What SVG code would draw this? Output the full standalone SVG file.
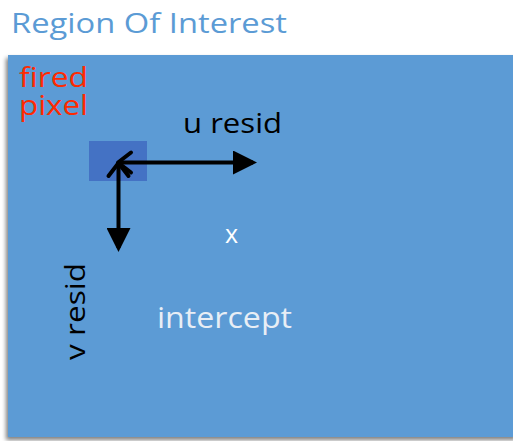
<svg xmlns="http://www.w3.org/2000/svg" width="513" height="441" viewBox="0 0 513 441">
<defs>
<style>
.t{font-family:"Open Sans","Liberation Sans",sans-serif;}
.ln{stroke:#000;stroke-width:4;fill:none;}
</style>
<filter id="sh" x="-5%" y="-5%" width="110%" height="110%">
<feGaussianBlur in="SourceAlpha" stdDeviation="2"/>
<feOffset dx="-2" dy="3"/>
<feComponentTransfer><feFuncA type="linear" slope="0.5"/></feComponentTransfer>
<feMerge><feMergeNode/><feMergeNode in="SourceGraphic"/></feMerge>
</filter>
<marker id="fill" markerWidth="6" markerHeight="6" refX="5" refY="3" orient="auto" markerUnits="strokeWidth">
<path d="M0,0 L6,3 L0,6 Z" fill="#000"/>
</marker>
<marker id="open" markerWidth="8" markerHeight="8" refX="1" refY="4" orient="auto" markerUnits="userSpaceOnUse" overflow="visible">
<path d="M14,-6 L1,4 L14,14" fill="none" stroke="#000" stroke-width="4" stroke-linecap="round" stroke-linejoin="round"/>
</marker>
</defs>
<rect width="513" height="441" fill="#fff"/>
<text class="t" x="11" y="33" font-size="28" fill="#5B9BD5" textLength="276" lengthAdjust="spacingAndGlyphs">Region Of Interest</text>
<g id="roi">
<rect x="8" y="55" width="510" height="382" fill="#5B9BD5" filter="url(#sh)"/>
</g>
<g id="pixel">
<rect x="89" y="141" width="58" height="40" fill="#4472C4"/>
</g>
<g id="labels">
<text class="t" font-size="27" fill="#FF2A00"><tspan x="19" y="87" textLength="69" lengthAdjust="spacingAndGlyphs">fired</tspan><tspan x="19" y="115" textLength="69" lengthAdjust="spacingAndGlyphs">pixel</tspan></text>
<text class="t" x="183" y="133" font-size="28" fill="#000" textLength="99" lengthAdjust="spacingAndGlyphs">u resid</text>
<text class="t" x="225" y="243" font-size="25" fill="#fff">x</text>
<text class="t" x="157" y="328" font-size="29" fill="#E8EEF5" textLength="135" lengthAdjust="spacingAndGlyphs">intercept</text>
<text class="t" font-size="28" fill="#000" transform="translate(85,360) rotate(-90)" textLength="97" lengthAdjust="spacingAndGlyphs">v resid</text>
</g>
<g id="connectors">
<line class="ln" x1="118" y1="162.5" x2="253" y2="162.5" marker-end="url(#fill)" marker-start="url(#open)"/>
<line class="ln" x1="118.5" y1="163" x2="118.5" y2="248" marker-end="url(#fill)" marker-start="url(#open)"/>
</g>
</svg>
